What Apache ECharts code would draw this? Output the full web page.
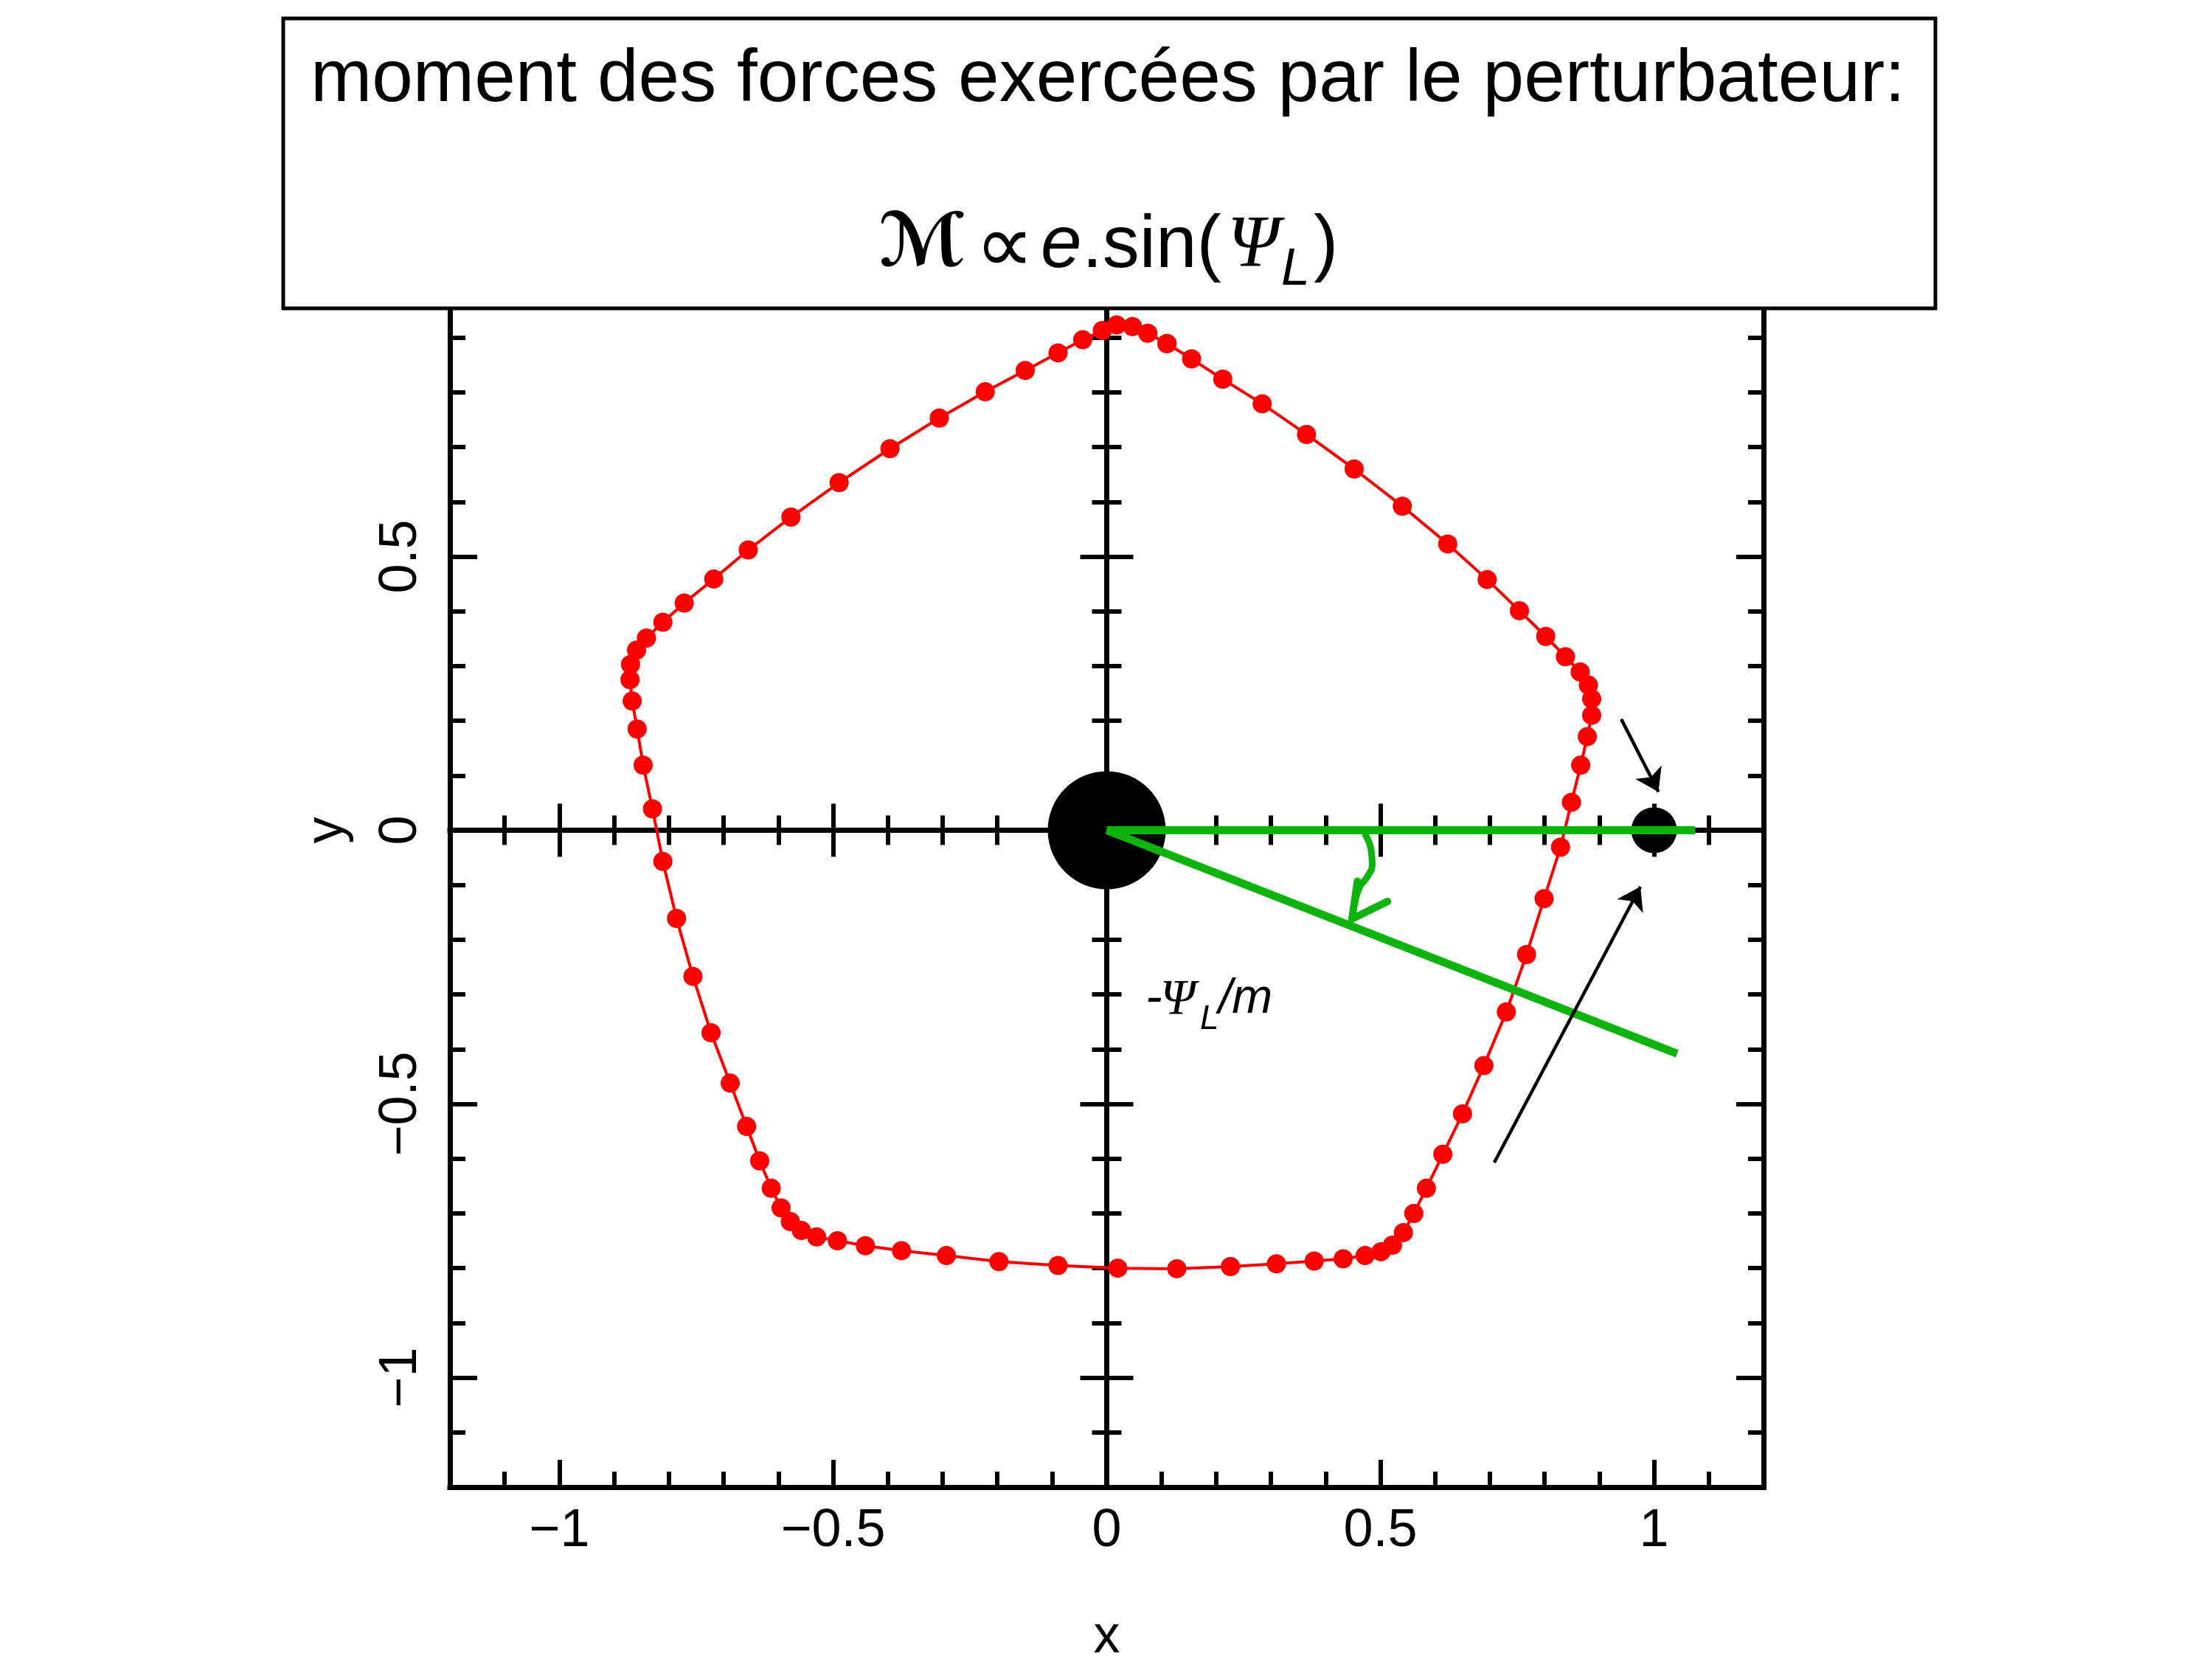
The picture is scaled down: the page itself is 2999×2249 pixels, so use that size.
<!DOCTYPE html>
<html>
<head>
<meta charset="utf-8">
<script src="https://cdn.jsdelivr.net/npm/echarts@6/dist/echarts.min.js"></script>
<style>
html,body{margin:0;padding:0;background:#fff;}
#chart{width:2999px;height:2249px;}
</style>
</head>
<body>
<div id="chart"></div>
<script>
// ---------- data ----------
const axisRange = [-1.2, 1.2];
const majorTicks = [-1, -0.5, 0, 0.5, 1];
const minorTicks = [-1.1, -0.9, -0.8, -0.7, -0.6, -0.4, -0.3, -0.2, -0.1, 0.1, 0.2, 0.3, 0.4, 0.6, 0.7, 0.8, 0.9, 1.1];
const tickLabels = ['\u22121', '\u22120.5', '0', '0.5', '1'];

const orbitX = [0.110, 0.075, 0.047, 0.018, -0.008, -0.044, -0.089, -0.149, -0.222, -0.306, -0.396, -0.489, -0.577, -0.655, -0.718, -0.772, -0.811, -0.841, -0.859, -0.870, -0.871, -0.867, -0.858, -0.847, -0.830, -0.811, -0.786, -0.756, -0.723, -0.688, -0.658, -0.634, -0.613, -0.595, -0.578, -0.558, -0.530, -0.492, -0.441, -0.375, -0.293, -0.197, -0.089, 0.020, 0.128, 0.226, 0.310, 0.379, 0.432, 0.472, 0.501, 0.522, 0.542, 0.561, 0.584, 0.614, 0.650, 0.689, 0.730, 0.767, 0.799, 0.829, 0.849, 0.866, 0.878, 0.886, 0.886, 0.880, 0.865, 0.838, 0.802, 0.754, 0.695, 0.623, 0.540, 0.452, 0.365, 0.284, 0.212, 0.155];
const orbitY = [0.889, 0.908, 0.920, 0.923, 0.913, 0.896, 0.872, 0.840, 0.801, 0.753, 0.697, 0.635, 0.572, 0.512, 0.459, 0.415, 0.380, 0.351, 0.329, 0.303, 0.275, 0.236, 0.185, 0.119, 0.039, -0.057, -0.161, -0.267, -0.370, -0.462, -0.541, -0.604, -0.654, -0.690, -0.715, -0.731, -0.743, -0.750, -0.759, -0.768, -0.777, -0.788, -0.795, -0.800, -0.801, -0.797, -0.792, -0.787, -0.783, -0.777, -0.770, -0.758, -0.735, -0.700, -0.654, -0.592, -0.518, -0.430, -0.332, -0.227, -0.125, -0.031, 0.051, 0.119, 0.171, 0.210, 0.240, 0.265, 0.289, 0.317, 0.354, 0.401, 0.458, 0.523, 0.592, 0.660, 0.723, 0.779, 0.824, 0.861];

const centralBody = [[0, 0]];
const perturber = [[1, 0]];
const refLine = [[0, 0], [1.075, 0]];
const rotatedLine = [[0, 0], [1.042, -0.408]];
const angleArc = [[0.471, -0.006], [0.483, -0.036], [0.485, -0.062], [0.476, -0.085], [0.462, -0.104], [0.453, -0.133], [0.448, -0.162]];
const angleHead = [[0.458, -0.093], [0.448, -0.162], [0.513, -0.130]];
const arrowShort = [[0.940, 0.203], [1.008, 0.070]];
const arrowLong = [[0.708, -0.607], [0.975, -0.103]];

// ---------- build ----------
const FONT = '"Liberation Sans", Arial, Helvetica, sans-serif';
const SERIF = '"Liberation Serif", "DejaVu Serif", serif';

function labelFor(v) {
  const i = majorTicks.findIndex(t => Math.abs(t - v) < 1e-9);
  return i >= 0 ? tickLabels[i] : '';
}

function makeAxis(pos, onZero, ticks, len, inside, showLine, extra) {
  const a = {
    type: 'value', min: axisRange[0], max: axisRange[1], position: pos,
    axisLine: { show: showLine, onZero: onZero, lineStyle: { color: '#000', width: 7, cap: 'square' } },
    axisTick: { show: true, inside: inside, length: len, customValues: ticks, lineStyle: { color: '#000', width: 6 } },
    axisLabel: { show: false },
    splitLine: { show: false }, splitArea: { show: false },
    minorTick: { show: false }, minorSplitLine: { show: false },
    axisPointer: { show: false }, silent: true
  };
  if (onZero) a.axisLine.onZeroAxisIndex = 0;
  return Object.assign(a, extra || {});
}

const MAJ = 37, MIN = 21;

const xLabel = {
  axisLabel: { show: true, customValues: majorTicks, formatter: labelFor, fontSize: 72, color: '#000', fontFamily: FONT, margin: 24 },
  name: 'x', nameLocation: 'middle', nameGap: 168,
  nameTextStyle: { fontSize: 72, color: '#000', fontFamily: FONT }
};
const yLabel = {
  axisLabel: { show: true, customValues: majorTicks, formatter: labelFor, fontSize: 72, color: '#000', fontFamily: FONT, margin: 30, rotate: 90 },
  name: 'y', nameLocation: 'middle', nameGap: 130,
  nameTextStyle: { fontSize: 72, color: '#000', fontFamily: FONT }
};

const xAxes = [
  makeAxis('bottom', false, majorTicks, MAJ, true, true, xLabel),
  makeAxis('bottom', false, minorTicks, MIN, true, false),
  makeAxis('top', false, majorTicks, MAJ, true, true),
  makeAxis('top', false, minorTicks, MIN, true, false),
  makeAxis('bottom', true, majorTicks, MAJ - 1, true, true),
  makeAxis('bottom', true, majorTicks, MAJ - 1, false, false),
  makeAxis('bottom', true, minorTicks, MIN - 1, true, false),
  makeAxis('bottom', true, minorTicks, MIN - 1, false, false)
];
const yAxes = [
  makeAxis('left', false, majorTicks, MAJ, true, true, yLabel),
  makeAxis('left', false, minorTicks, MIN, true, false),
  makeAxis('right', false, majorTicks, MAJ, true, true),
  makeAxis('right', false, minorTicks, MIN, true, false),
  makeAxis('left', true, majorTicks, MAJ - 1, true, true),
  makeAxis('left', true, majorTicks, MAJ - 1, false, false),
  makeAxis('left', true, minorTicks, MIN - 1, true, false),
  makeAxis('left', true, minorTicks, MIN - 1, false, false)
];

const orbit = orbitX.map((x, i) => [x, orbitY[i]]);
orbit.push(orbit[0]);

const GREEN = '#0db40d';

function txt(text, x, y, fs, family, style, align, weight) {
  return {
    type: 'text', x: x, y: y, z: 101,
    style: { text: text, fontSize: fs, fontFamily: family, fontStyle: style || 'normal',
      fontWeight: weight || 'normal',
      fill: '#000', align: align || 'left', verticalAlign: 'middle' }
  };
}

const option = {
  animation: false,
  backgroundColor: '#fff',
  textStyle: { fontFamily: FONT },
  grid: { left: 610, top: 235, width: 1781, height: 1781, containLabel: false, outerBoundsMode: 'none' },
  xAxis: xAxes,
  yAxis: yAxes,
  series: [
    { type: 'line', name: 'orbite', data: orbit, xAxisIndex: 0, yAxisIndex: 0, z: 3,
      symbol: 'circle', symbolSize: 26, showSymbol: true, showAllSymbol: true,
      itemStyle: { color: '#ff0000', opacity: 1 }, lineStyle: { color: '#ff0000', width: 4 } },
    { type: 'scatter', data: centralBody, symbolSize: 160, z: 4, itemStyle: { color: '#000', opacity: 1 } },
    { type: 'scatter', data: perturber, symbolSize: 62, z: 4, itemStyle: { color: '#000', opacity: 1 } },
    { type: 'line', data: refLine, symbol: 'none', z: 5, lineStyle: { color: GREEN, width: 11 } },
    { type: 'line', data: rotatedLine, symbol: 'none', z: 5, lineStyle: { color: GREEN, width: 11 } },
    { type: 'line', data: angleArc, symbol: 'none', smooth: 0.5, z: 5, lineStyle: { color: GREEN, width: 9 } },
    { type: 'line', data: angleHead, symbol: 'none', z: 5, lineStyle: { color: GREEN, width: 10, join: 'round', cap: 'round' } },
    { type: 'lines', coordinateSystem: 'cartesian2d', z: 6,
      symbol: ['none', 'arrow'], symbolSize: 30,
      lineStyle: { color: '#000', width: 4.5, opacity: 1, curveness: 0 },
      data: [{ coords: arrowShort }, { coords: arrowLong }] }
  ],
  graphic: [
    { type: 'rect', z: 100, shape: { x: 384, y: 25, width: 2240, height: 393 },
      style: { fill: '#fff', stroke: '#000', lineWidth: 5 } },
    txt('moment des forces exercées par le perturbateur:', 1502, 109, 100, FONT, 'normal', 'center'),
    txt('\u2133', 1191, 334, 100, '"DejaVu Sans", serif', 'italic', 'left', 'bold'),
    txt('\u221D', 1322, 340, 112, '"DejaVu Sans", sans-serif', 'normal'),
    txt('e', 1411, 334, 100, FONT, 'italic'),
    txt('.sin(', 1467, 334, 100, FONT, 'normal'),
    txt('\u03A8', 1664, 334, 100, SERIF, 'italic'),
    txt('L', 1737, 367, 70, FONT, 'italic'),
    txt(')', 1781, 334, 100, FONT, 'normal'),
    txt('-', 1553, 1355, 68, FONT, 'italic'),
    txt('\u03A8', 1573, 1356, 68, SERIF, 'italic'),
    txt('L', 1627, 1382, 46, FONT, 'italic'),
    txt('/m', 1652, 1355, 66, FONT, 'italic')
  ]
};

const chart = echarts.init(document.getElementById('chart'), null, { renderer: 'canvas' });
chart.setOption(option);
</script>
</body>
</html>
